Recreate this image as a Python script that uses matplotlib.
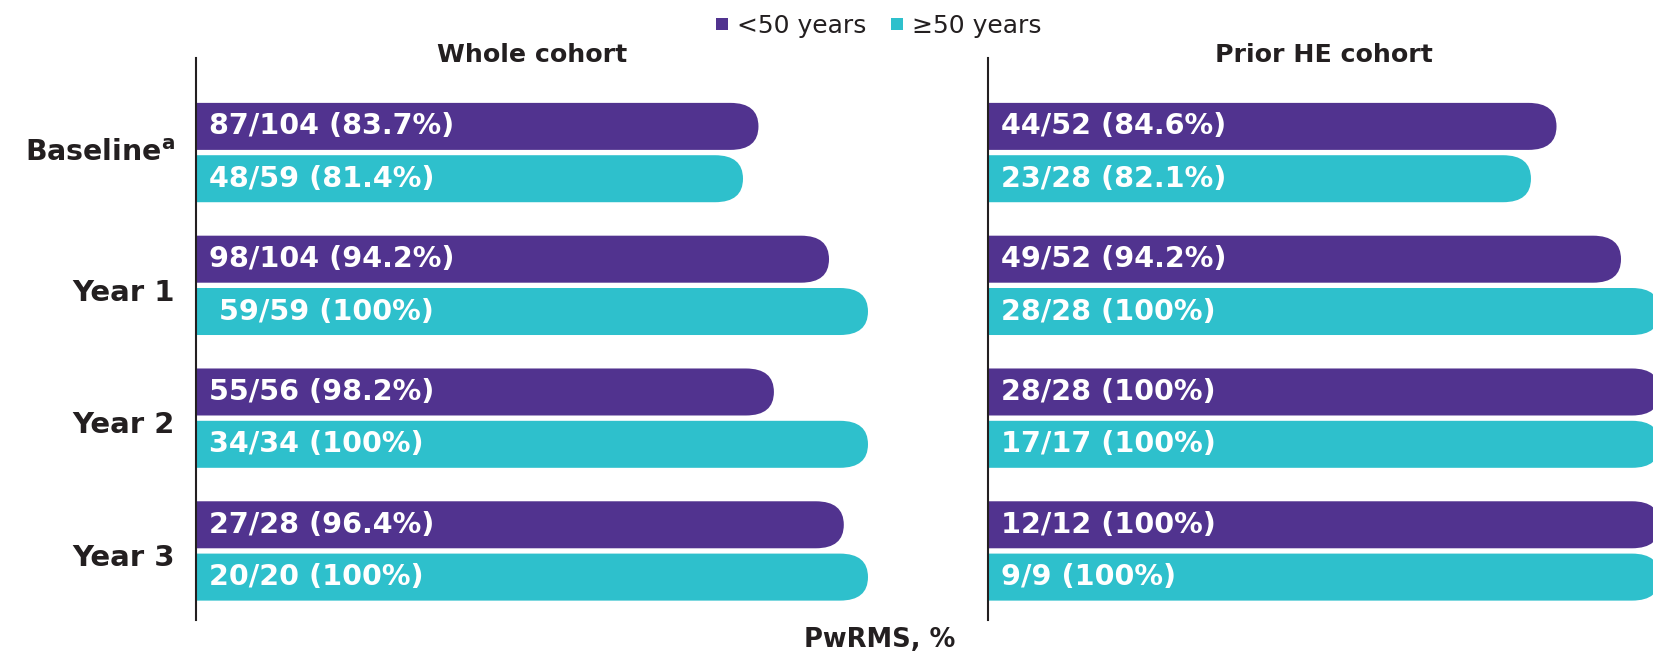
import matplotlib
matplotlib.use("Agg")
import matplotlib.pyplot as plt
from matplotlib.patches import FancyBboxPatch
from matplotlib.lines import Line2D

# ---- data ----
timepoints = ["Baseline", "Year 1", "Year 2", "Year 3"]
series_names = ["<50 years", "\u226550 years"]
panel_titles = ["Whole cohort", "Prior HE cohort"]

whole_young_pct = [83.7, 94.2, 86.0, 96.4]
whole_old_pct = [81.4, 100, 100, 100]
prior_young_pct = [84.6, 94.2, 100, 100]
prior_old_pct = [80.8, 100, 100, 100]

whole_young_lbl = ["87/104 (83.7%)", "98/104 (94.2%)", "55/56 (98.2%)", "27/28 (96.4%)"]
whole_old_lbl = ["48/59 (81.4%)", " 59/59 (100%)", "34/34 (100%)", "20/20 (100%)"]
prior_young_lbl = ["44/52 (84.6%)", "49/52 (94.2%)", "28/28 (100%)", "12/12 (100%)"]
prior_old_lbl = ["23/28 (82.1%)", "28/28 (100%)", "17/17 (100%)", "9/9 (100%)"]

x_label = "PwRMS, %"

# ---- style ----
PURPLE = "#51338F"
CYAN = "#2EC0CC"
DARK = "#231F20"

W, H = 1653, 657
fig = plt.figure(figsize=(W / 100, H / 100), dpi=100)

ax_top, ax_bot = 58, 620
ylim = (3.52, -0.712)
bar_h = 0.354
off = 0.197

def add_axes(left_px, width_px):
    return fig.add_axes([left_px / W, (H - ax_bot) / H, width_px / W, (ax_bot - ax_top) / H])

axL = add_axes(196, 672)
axR = add_axes(988, 672)

def draw_panel(ax, young, old, ylbl, olbl, title):
    ax.set_xlim(0, 100)
    ax.set_ylim(*ylim)
    ax.set_facecolor("none")
    for s in ["top", "right", "bottom"]:
        ax.spines[s].set_visible(False)
    ax.spines["left"].set_color(DARK)
    ax.spines["left"].set_linewidth(1.5)
    ax.set_xticks([])
    ax.set_yticks([])
    # pixel scales
    sx = 672 / 100.0
    sy = (ax_bot - ax_top) / (ylim[0] - ylim[1])
    rx_px, ry_px = 28, bar_h * sy / 2
    r = rx_px / sx
    m = (ry_px / sy) / r
    for i in range(len(timepoints)):
        for val, lbl, col, dy in [(young[i], ylbl[i], PURPLE, -off), (old[i], olbl[i], CYAN, off)]:
            yc = i + dy
            p = FancyBboxPatch((-10, yc - bar_h / 2), val + 10, bar_h,
                               boxstyle=f"round,pad=0,rounding_size={r}",
                               mutation_aspect=m, facecolor=col, edgecolor="none")
            ax.add_patch(p)
            ax.text(1.95, yc, lbl, color="white", fontsize=20.6, fontweight="bold",
                    va="center", ha="left")
    ax.text(0.5, 1.005, title, transform=ax.transAxes, ha="center", va="center",
            fontsize=18.2, fontweight="bold", color=DARK)

draw_panel(axL, whole_young_pct, whole_old_pct, whole_young_lbl, whole_old_lbl, panel_titles[0])
draw_panel(axR, prior_young_pct, prior_old_pct, prior_young_lbl, prior_old_lbl, panel_titles[1])

# category labels
for i, t in enumerate(timepoints):
    if i == 0:
        s = t + r"$^{\mathbf{a}}$"
        dy, fs = 0.0, 20.4
    else:
        s = t
        dy, fs = 0.055, 21
    axL.text(-3.1, i + dy, s, ha="right", va="center", fontsize=fs, fontweight="bold",
             color=DARK, clip_on=False)

# legend
handles = [Line2D([], [], marker="s", linestyle="none", markersize=9, color=c,
                  markeredgewidth=0) for c in (PURPLE, CYAN)]
fig.legend(handles, series_names, loc="center", bbox_to_anchor=(878 / W, 1 - 26 / H),
           ncol=2, frameon=False, fontsize=18, handlelength=0.6, handletextpad=0.3,
           columnspacing=0.9, labelcolor=DARK, borderpad=0)

fig.text(880 / W, 1 - 640 / H, x_label, ha="center", va="center", fontsize=18.5,
         fontweight="bold", color=DARK)

fig.savefig("out.png", dpi=100)
